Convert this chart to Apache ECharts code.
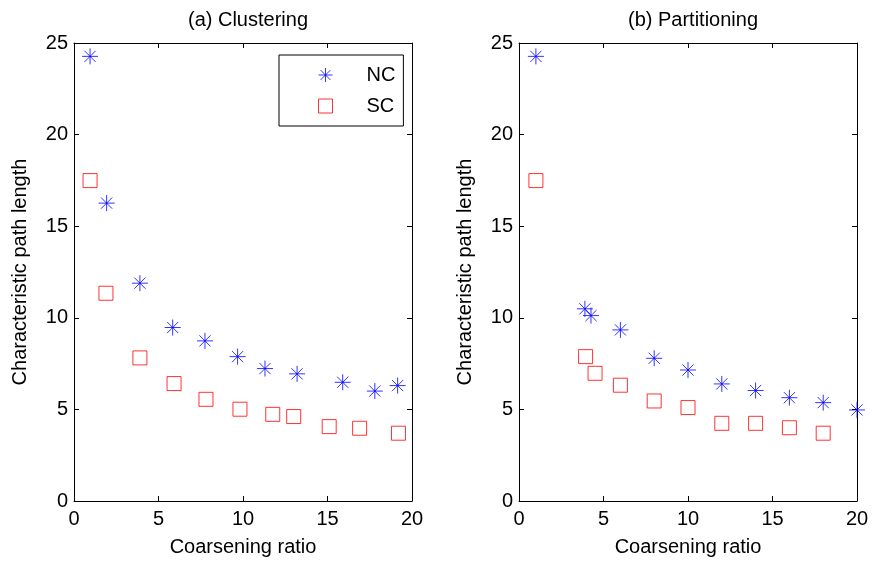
<!DOCTYPE html>
<html>
<head>
<meta charset="utf-8">
<script src="https://cdn.jsdelivr.net/npm/echarts@6/dist/echarts.min.js"></script>
<style>
html, body { margin: 0; padding: 0; background: #fff; }
#chart { width: 872px; height: 563px; }
</style>
</head>
<body>
<div id="chart"></div>
<script>
// (a) Clustering
var clusNcX = [0.95, 1.93, 3.9, 5.84, 7.75, 9.68, 11.3, 13.2, 15.9, 17.8, 19.15];
var clusNcY = [24.27, 16.26, 11.89, 9.47, 8.74, 7.88, 7.23, 6.94, 6.48, 6.0, 6.3];
var clusScX = [0.95, 1.89, 3.9, 5.92, 7.81, 9.82, 11.76, 13.0, 15.1, 16.9, 19.2];
var clusScY = [17.49, 11.34, 7.81, 6.41, 5.55, 5.01, 4.73, 4.61, 4.06, 3.97, 3.70];

// (b) Partitioning
var partNcX = [1, 3.9, 4.26, 6, 8, 10, 12, 14, 16, 18, 20];
var partNcY = [24.27, 10.49, 10.12, 9.34, 7.79, 7.15, 6.39, 6.03, 5.64, 5.37, 4.97];
var partScX = [1, 3.94, 4.5, 6, 8, 10, 12, 14, 16, 18];
var partScY = [17.49, 7.88, 6.97, 6.32, 5.46, 5.10, 4.24, 4.24, 4.0, 3.70];

var titles = ['(a) Clustering', '(b) Partitioning'];
var xName = 'Coarsening ratio';
var yName = 'Characteristic path length';

var font = 'Liberation Sans, Arial, Helvetica, sans-serif';
var fs = 20;
var starPath = 'path://M0,-10L0,10M-10,0L10,0M-7,-7L7,7M-7,7L7,-7';

var zip = function(xs, ys){
	var out = [];
	for (var i = 0; i < xs.length; i++) {
		out.push([xs[i], ys[i]]);
	}
	return out;
};

var myChart = echarts.init(document.getElementById('chart'));

var grids = [
	{ left: 74, top: 43, width: 338, height: 458 },
	{ left: 519, top: 43, width: 338, height: 458 }
];

var xAxes = [];
var yAxes = [];
for (var g = 0; g < 2; g++) {
	// bottom axis with labels
	xAxes.push({
		gridIndex: g, type: 'value', min: 0, max: 20, interval: 5, position: 'bottom',
		name: xName, nameLocation: 'middle', nameGap: 36,
		nameTextStyle: { fontFamily: font, fontSize: fs, color: '#000' },
		axisLine: { lineStyle: { color: '#000', width: 1 } },
		axisTick: { inside: true, length: 5, lineStyle: { color: '#000' } },
		axisLabel: { fontFamily: font, fontSize: fs, color: '#000', margin: 8 },
		splitLine: { show: false }
	});
	// top box line with ticks
	xAxes.push({
		gridIndex: g, type: 'value', min: 0, max: 20, interval: 5, position: 'top',
		axisLine: { onZero: false, lineStyle: { color: '#000', width: 1 } },
		axisTick: { inside: true, length: 5, lineStyle: { color: '#000' } },
		axisLabel: { show: false },
		splitLine: { show: false }
	});
	yAxes.push({
		gridIndex: g, type: 'value', min: 0, max: 25, interval: 5, position: 'left',
		name: yName, nameLocation: 'middle', nameGap: 44,
		nameTextStyle: { fontFamily: font, fontSize: fs, color: '#000' },
		axisLine: { lineStyle: { color: '#000', width: 1 } },
		axisTick: { inside: true, length: 5, lineStyle: { color: '#000' } },
		axisLabel: { fontFamily: font, fontSize: fs, color: '#000', margin: 6 },
		splitLine: { show: false }
	});
	yAxes.push({
		gridIndex: g, type: 'value', min: 0, max: 25, interval: 5, position: 'right',
		axisLine: { onZero: false, lineStyle: { color: '#000', width: 1 } },
		axisTick: { inside: true, length: 5, lineStyle: { color: '#000' } },
		axisLabel: { show: false },
		splitLine: { show: false }
	});
}

var ncStyle = { color: 'none', borderColor: '#0000ff', borderWidth: 1 };
var scStyle = { color: 'none', borderColor: '#ff0000', borderWidth: 1 };

var option = {
	animation: false,
	backgroundColor: '#fff',
	title: [
		{ text: titles[0], left: 243, top: 5, textAlign: 'center',
		  textStyle: { fontFamily: font, fontSize: fs, fontWeight: 'normal', color: '#000' } },
		{ text: titles[1], left: 688, top: 5, textAlign: 'center',
		  textStyle: { fontFamily: font, fontSize: fs, fontWeight: 'normal', color: '#000' } }
	],
	legend: {
		data: ['NC', 'SC'],
		orient: 'vertical',
		left: 279, top: 55,
		padding: [10, 8, 10, 37],
		itemGap: 11,
		itemWidth: 14, itemHeight: 14,
		itemStyle: { borderWidth: 1 },
		borderColor: '#000', borderWidth: 1,
		textStyle: { fontFamily: font, fontSize: fs, color: '#000', padding: [0, 0, 0, 29] }
	},
	grid: grids,
	xAxis: xAxes,
	yAxis: yAxes,
	series: [
		{ name: 'NC', type: 'scatter', xAxisIndex: 0, yAxisIndex: 0, symbol: starPath, symbolSize: 16,
		  itemStyle: ncStyle, data: zip(clusNcX, clusNcY) },
		{ name: 'SC', type: 'scatter', xAxisIndex: 0, yAxisIndex: 0, symbol: 'rect', symbolSize: 14,
		  itemStyle: scStyle, data: zip(clusScX, clusScY) },
		{ name: 'NC', type: 'scatter', xAxisIndex: 2, yAxisIndex: 2, symbol: starPath, symbolSize: 16,
		  itemStyle: ncStyle, data: zip(partNcX, partNcY) },
		{ name: 'SC', type: 'scatter', xAxisIndex: 2, yAxisIndex: 2, symbol: 'rect', symbolSize: 14,
		  itemStyle: scStyle, data: zip(partScX, partScY) }
	]
};
myChart.setOption(option);
</script>
</body>
</html>
